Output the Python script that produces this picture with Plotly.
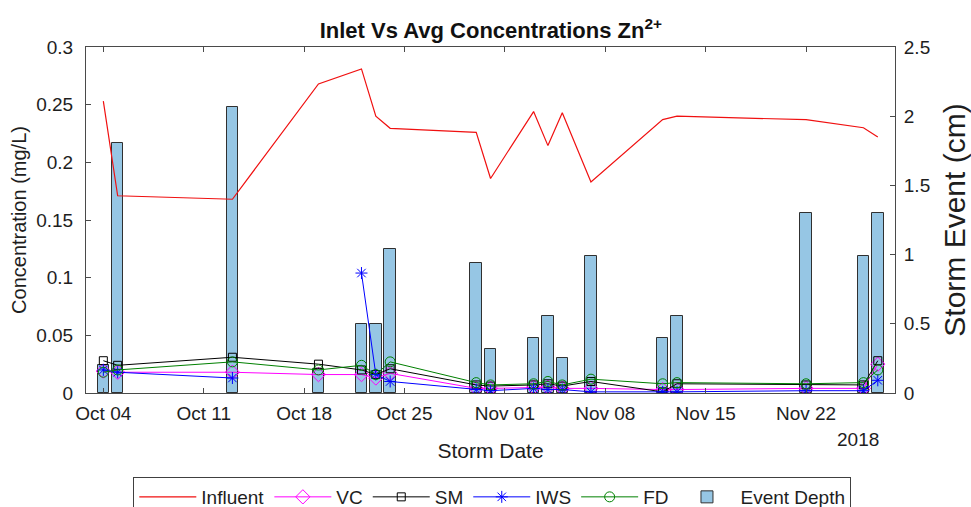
import plotly.graph_objects as go

dates = ["2018-10-04", "2018-10-05", "2018-10-13", "2018-10-19", "2018-10-22", "2018-10-23",
         "2018-10-24", "2018-10-30", "2018-10-31", "2018-11-03", "2018-11-04", "2018-11-05",
         "2018-11-07", "2018-11-12", "2018-11-13", "2018-11-22", "2018-11-26", "2018-11-27"]

event_depth = [0.20, 1.81, 2.07, 0.17, 0.50, 0.50, 1.04, 0.94, 0.32, 0.40, 0.56, 0.25,
               0.99, 0.40, 0.56, 1.30, 0.99, 1.30]

influent = [0.253, 0.171, 0.168, 0.268, 0.281, 0.240, 0.2295, 0.226, 0.186, 0.244, 0.2145,
            0.243, 0.183, 0.237, 0.240, 0.237, 0.230, 0.222]

vc = [0.019, 0.018, 0.018, 0.016, 0.016, 0.013, 0.017, 0.004, 0.004, 0.005, 0.005, 0.004,
      0.004, 0.003, 0.003, 0.004, 0.004, 0.025]
sm = [0.028, 0.024, 0.031, 0.025, 0.020, 0.016, 0.021, 0.007, 0.006, 0.007, 0.008, 0.006,
      0.010, 0.001, 0.008, 0.007, 0.007, 0.028]
iws = [0.020, 0.018, 0.013, None, 0.104, 0.016, 0.010, 0.003, 0.002, 0.004, 0.003, 0.003,
       0.001, 0.001, 0.001, 0.002, 0.002, 0.011]
fd = [0.018, 0.020, 0.027, 0.020, 0.024, 0.016, 0.027, 0.009, 0.007, 0.008, 0.010, 0.007,
      0.012, 0.008, 0.009, 0.008, 0.009, 0.020]

FONT = "Liberation Sans, Arial, Helvetica, sans-serif"
AX = "#4a4a4a"
TXT = "#1e1e1e"

fig = go.Figure()

fig.add_trace(go.Scatter(x=dates, y=influent, name="Influent", mode="lines",
                         line=dict(color="#f01010", width=1.2), yaxis="y2"))
fig.add_trace(go.Scatter(x=dates, y=vc, name="VC", mode="lines+markers",
                         line=dict(color="#ff00ff", width=1),
                         marker=dict(symbol="diamond-open", size=11, color="#ff00ff", line=dict(width=1)),
                         yaxis="y2"))
fig.add_trace(go.Scatter(x=dates, y=sm, name="SM", mode="lines+markers",
                         line=dict(color="#000000", width=1),
                         marker=dict(symbol="square-open", size=8, color="#000000", line=dict(width=1)),
                         yaxis="y2"))
fig.add_trace(go.Scatter(x=dates, y=iws, name="IWS", mode="lines+markers", connectgaps=False,
                         line=dict(color="#0000ff", width=1),
                         marker=dict(symbol="asterisk-open", size=10, color="#0000ff",
                                     line=dict(width=1, color="#0000ff")),
                         yaxis="y2"))
fig.add_trace(go.Scatter(x=dates, y=fd, name="FD", mode="lines+markers",
                         line=dict(color="#008000", width=1),
                         marker=dict(symbol="circle-open", size=10, color="#008000", line=dict(width=1)),
                         yaxis="y2"))
fig.add_trace(go.Bar(x=dates, y=event_depth, name="Event Depth", width=0.8 * 86400000,
                     marker=dict(color="rgb(150,198,228)", line=dict(color="#303030", width=1)),
                     yaxis="y"))

fig.update_layout(
    width=971, height=507,
    margin=dict(l=86, r=76, t=47, b=114, autoexpand=False),
    paper_bgcolor="white", plot_bgcolor="white",
    font=dict(family=FONT, color=TXT, size=19),
    title=dict(text="<b>Inlet Vs Avg Concentrations Zn<sup>2+</sup></b>",
               x=0.5055, xanchor="center", y=0.94, yanchor="middle", yref="container",
               font=dict(size=22, color="#111111")),
    showlegend=True,
    legend=dict(orientation="h", x=0.507, xanchor="center", xref="container",
                y=(507 - 477) / 507, yanchor="top", yref="container",
                bordercolor="#404040", borderwidth=1, font=dict(size=19, color=TXT),
                traceorder="normal", itemwidth=57, tracegroupgap=0),
    bargap=0,
    xaxis=dict(type="date", range=["2018-10-02 19:00", "2018-11-28 04:48"],
               tick0="2018-10-04", dtick=7 * 86400000, tickformat="%b %d",
               ticks="inside", ticklen=5, tickcolor=AX, showline=True, linecolor=AX,
               linewidth=1, mirror="ticks", showgrid=False, zeroline=False, automargin=False,
               ticklabelstandoff=3, tickfont=dict(size=19),
               title=dict(text="Storm Date", font=dict(size=21), standoff=20)),
    yaxis=dict(side="right", range=[0, 2.5], dtick=0.5, ticks="inside", ticklen=5,
               tickcolor=AX, showline=True, linecolor=AX, linewidth=1, showgrid=False,
               zeroline=False, automargin=False, ticklabelstandoff=4, tickfont=dict(size=19),
               title=dict(text="Storm Event (cm)", font=dict(size=30), standoff=15)),
    yaxis2=dict(side="left", overlaying="y", range=[0, 0.3], dtick=0.05, ticks="inside",
                ticklen=5, tickcolor=AX, showline=True, linecolor=AX, linewidth=1,
                showgrid=False, zeroline=False, automargin=False, ticklabelstandoff=8,
                tickfont=dict(size=19),
                title=dict(text="Concentration (mg/L)", font=dict(size=20), standoff=4)),
    annotations=[dict(text="2018", x=0.954, y=-0.133, xref="paper", yref="paper",
                      showarrow=False, font=dict(size=19), xanchor="center", yanchor="middle")],
)

fig.write_html("out.html", config={"displayModeBar": False},
               post_script="document.body.style.margin='0px';document.body.style.padding='0px';")
